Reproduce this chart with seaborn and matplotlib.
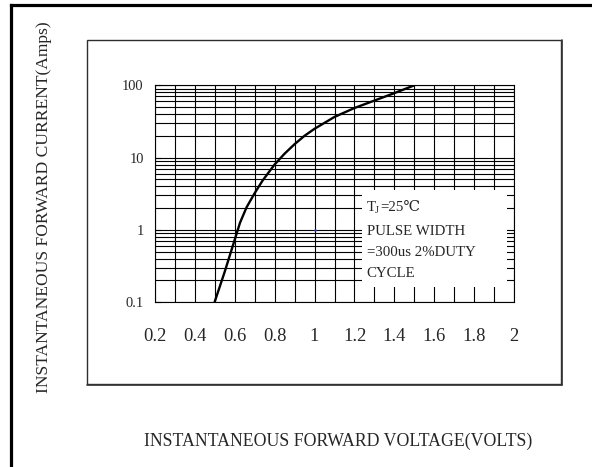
import matplotlib
matplotlib.use("Agg")
import matplotlib.pyplot as plt
from matplotlib.lines import Line2D
from matplotlib.patches import Rectangle
from matplotlib.ticker import FixedLocator, FixedFormatter, LogLocator, NullFormatter
import seaborn as sns

# --- data ---
voltage = [0.50, 0.55, 0.60, 0.627, 0.66, 0.70, 0.74, 0.80, 0.85,
           0.90, 0.95, 1.00, 1.10, 1.20, 1.30, 1.40, 1.50]
current = [0.10, 0.26, 0.72, 1.25, 2.05, 3.2, 4.8, 8.0, 11.3,
           15.3, 20.0, 25.0, 36.5, 48.5, 61.5, 78.0, 100.0]

x_ticks = [0.2, 0.4, 0.6, 0.8, 1.0, 1.2, 1.4, 1.6, 1.8, 2.0]
x_tick_labels = ["0.2", "0.4", "0.6", "0.8", "1", "1.2", "1.4", "1.6", "1.8", "2"]
x_minor = [0.3, 0.5, 0.7, 0.9, 1.1, 1.3, 1.5, 1.7, 1.9]
y_ticks = [0.1, 1, 10, 100]
y_tick_labels = ["0.1", "1", "10", "100"]

stray_dot = ([1.0], [1.0])

x_label = "INSTANTANEOUS FORWARD VOLTAGE(VOLTS)"
y_label = "INSTANTANEOUS FORWARD CURRENT(Amps)"
note_lines = ["PULSE WIDTH", "=300us 2%DUTY", "CYCLE"]

# --- style ---
sns.set_style("white")
plt.rcParams['font.family'] = ['Liberation Serif', 'DejaVu Serif']

W, H = 592, 467
fig = plt.figure(figsize=(W / 100, H / 100), dpi=100)
fig.patch.set_facecolor('white')

# plot area in pixels: x 154.7..514.3, y 85.3..302
ax = fig.add_axes([154.7 / W, 1 - 302 / H, 359.6 / W, 216.7 / H])

ax.set_yscale('log')
sns.lineplot(x=voltage, y=current, ax=ax, color='black', lw=1.7, zorder=3)
ax.scatter(*stray_dot, s=3, color='#2a2ad0', zorder=4, linewidths=0)

ax.set_xlim(0.2, 2.0)
ax.set_ylim(0.1, 100)

ax.xaxis.set_major_locator(FixedLocator(x_ticks))
ax.xaxis.set_major_formatter(FixedFormatter(x_tick_labels))
ax.xaxis.set_minor_locator(FixedLocator(x_minor))
ax.yaxis.set_major_locator(FixedLocator(y_ticks))
ax.yaxis.set_major_formatter(FixedFormatter(y_tick_labels))
ax.yaxis.set_minor_locator(LogLocator(base=10, subs=range(2, 10)))
ax.yaxis.set_minor_formatter(NullFormatter())

ax.tick_params(axis='x', which='both', length=0, pad=18.5, labelsize=13.3)
ax.tick_params(axis='y', which='major', direction='in', length=4.3, width=0.8,
               left=True, pad=8, labelsize=10.4, color='black')
ax.tick_params(axis='y', which='minor', length=0)

ax.set_axisbelow(True)
ax.grid(which='both', color='black', lw=0.8)

for sp in ax.spines.values():
    sp.set_visible(True)
    sp.set_color('black')
    sp.set_linewidth(0.8)

# white note box over the grid
ax.add_patch(Rectangle((0.5765, 0.069), 0.4035, 0.448, transform=ax.transAxes,
                       facecolor='white', edgecolor='none', zorder=1.5))
ax.text(0.5895, 0.4213, "T", transform=ax.transAxes, fontsize=10.7,
        va='baseline', ha='left', zorder=5)
ax.text(0.613, 0.4089, "J", transform=ax.transAxes, fontsize=7.5,
        va='baseline', ha='left', zorder=5)
ax.text(0.627, 0.4213, "=25℃", transform=ax.transAxes, fontsize=10.7,
        va='baseline', ha='left', zorder=5)
for line, yb in zip(note_lines, [0.3092, 0.2123, 0.1168]):
    ax.text(0.5895, yb, line, transform=ax.transAxes, fontsize=10.7,
            va='baseline', ha='left', zorder=5)

# axis titles
ax.set_xlabel(x_label, fontsize=12.8, va='center')
ax.xaxis.set_label_coords(0.5097, -0.6414)
ax.set_ylabel(y_label, fontsize=12.6, va='center')
ax.yaxis.set_label_coords(-0.3075, 0.436)

# inner frame with a slight shadow on right/bottom
fig.add_artist(Rectangle((87 / W, 1 - 384 / H), (561 - 87) / W, (384 - 40) / H,
                         transform=fig.transFigure, fill=False,
                         edgecolor='#2e2e2e', lw=1.0))
fig.add_artist(Line2D([561.5 / W, 561.5 / W], [1 - 385 / H, 1 - 40 / H],
                      transform=fig.transFigure, color='#333333', lw=1.2))
fig.add_artist(Line2D([87 / W, 562 / W], [1 - 384.5 / H, 1 - 384.5 / H],
                      transform=fig.transFigure, color='#333333', lw=1.2))

# thick outer frame (cut off at right and bottom)
fig.add_artist(Line2D([10.7 / W, 10.7 / W], [0, 1 - 5.3 / H],
                      transform=fig.transFigure, color='black', lw=2.3,
                      solid_capstyle='projecting'))
fig.add_artist(Line2D([10.7 / W, 1], [1 - 5.3 / H, 1 - 5.3 / H],
                      transform=fig.transFigure, color='black', lw=2.3,
                      solid_capstyle='projecting'))

fig.savefig("out.png", dpi=100, facecolor='white')
